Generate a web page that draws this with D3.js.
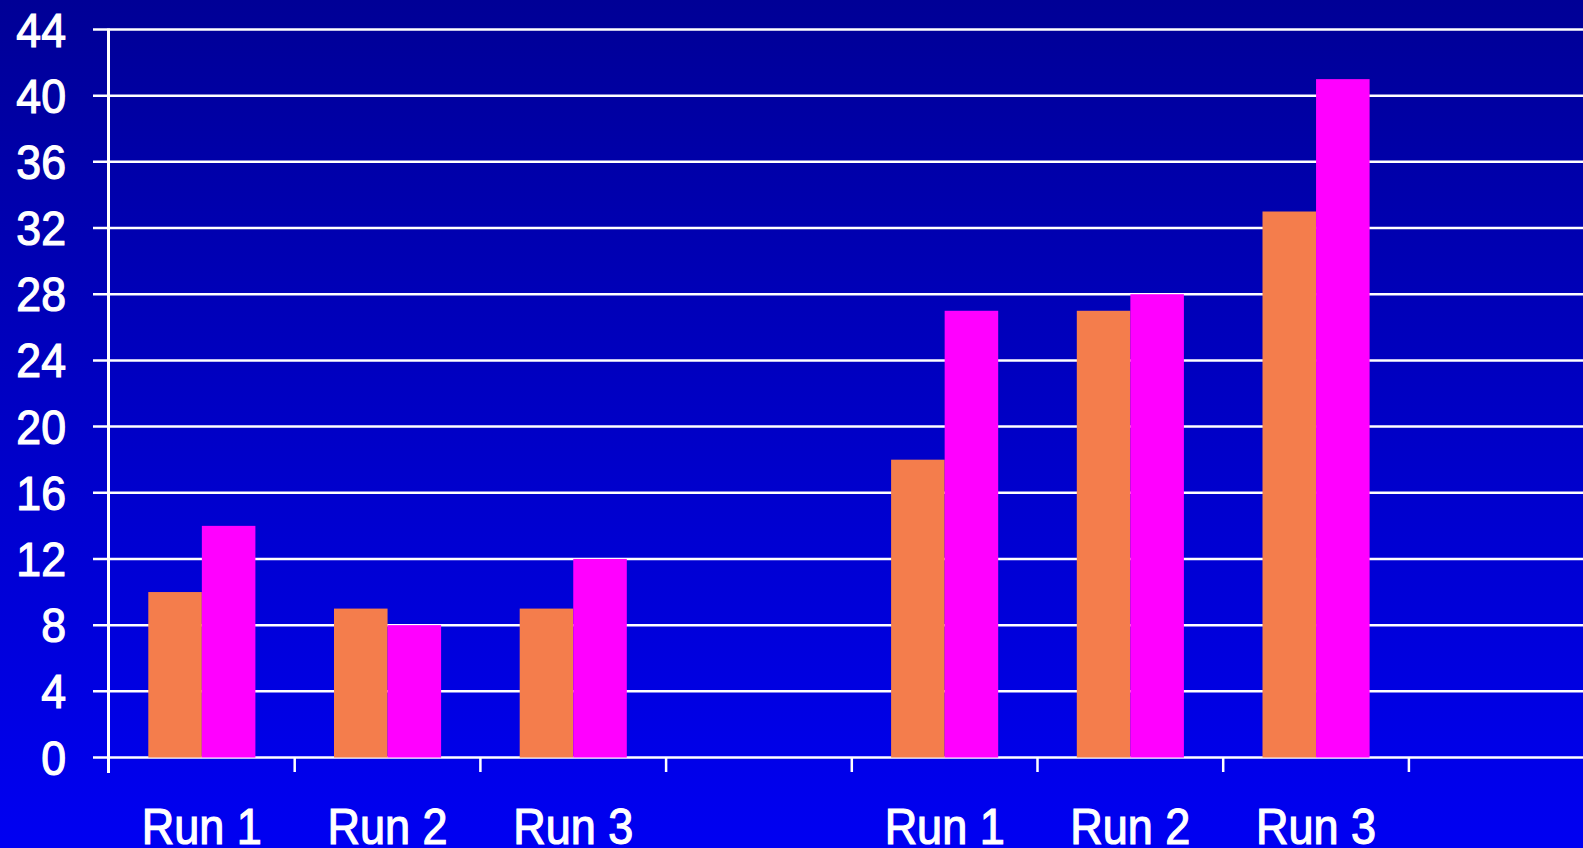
<!DOCTYPE html>
<html>
<head>
<meta charset="utf-8">
<script src="https://cdn.jsdelivr.net/npm/d3@7"></script>
<style>
html,body{margin:0;padding:0;overflow:hidden;background:#0000cc;}
svg{display:block;}
</style>
</head>
<body>
<svg id="chart" width="1583" height="848"></svg>
<script>
const categories = ["Run 1","Run 2","Run 3","","Run 1","Run 2","Run 3",""];
const seriesNames = ["Series A","Series B"];
const seriesA = [10, 9, 9, null, 18, 27, 33, null];
const seriesB = [14, 8, 12, null, 27, 28, 41, null];
const yTicks = [0,4,8,12,16,20,24,28,32,36,40,44];
const colors = ["#f47d4c", "#ff00ff"];

const W = 1583, H = 848;
const svg = d3.select("#chart");

const defs = svg.append("defs");
const grad = defs.append("linearGradient").attr("id","bg").attr("x1",0).attr("y1",0).attr("x2",0).attr("y2",1);
grad.append("stop").attr("offset","0%").attr("stop-color","#000096");
grad.append("stop").attr("offset","50%").attr("stop-color","#0000c6");
grad.append("stop").attr("offset","100%").attr("stop-color","#0000f2");
svg.append("rect").attr("width",W).attr("height",H).attr("fill","url(#bg)");

const x0 = 109, slot = 185.7;
const x = d3.scaleBand().domain(d3.range(categories.length)).range([x0, x0 + slot*categories.length]).padding(0);
const y = d3.scaleLinear().domain([0,44]).range([757.5, 29.5]);
const inner = d3.scaleBand().domain(seriesNames).range([39.3, slot-39.3]).padding(0);

// gridlines
svg.append("g").selectAll("line").data(yTicks).join("line")
  .attr("x1", 93).attr("x2", W)
  .attr("y1", d => y(d)).attr("y2", d => y(d))
  .attr("stroke","#fff").attr("stroke-width",2.5);

// bars
const rows = categories.map((c,i) => ({i, vals:[seriesA[i], seriesB[i]]}));
const g = svg.append("g").selectAll("g").data(rows).join("g")
  .attr("transform", d => `translate(${x(d.i)},0)`);
g.selectAll("rect").data(d => d.vals.map((v,k)=>({v,k})).filter(e=>e.v!=null)).join("rect")
  .attr("x", e => inner(seriesNames[e.k]))
  .attr("width", inner.bandwidth())
  .attr("y", e => y(e.v))
  .attr("height", e => y(0) - y(e.v))
  .attr("fill", e => colors[e.k]);

// y axis line
svg.append("line").attr("x1",108.5).attr("x2",108.5).attr("y1",y(44)-1).attr("y2",773)
  .attr("stroke","#fff").attr("stroke-width",3);

// x ticks
const xt = d3.range(categories.length).slice(1);
svg.append("g").selectAll("line").data(xt).join("line")
  .attr("x1", d => x(d)).attr("x2", d => x(d))
  .attr("y1", y(0)).attr("y2", 772)
  .attr("stroke","#fff").attr("stroke-width",2.5);

// y labels
svg.append("g").selectAll("text").data(yTicks).join("text")
  .attr("transform", d => `translate(66,${y(d)+17}) scale(0.93,1)`)
  .attr("text-anchor","end")
  .attr("font-family","Liberation Sans, Arial, sans-serif")
  .attr("font-size",48)
  .attr("fill","#fff").attr("stroke","#fff").attr("stroke-width",1.2)
  .text(d => d);

// x labels
svg.append("g").selectAll("text").data(categories.map((c,i)=>({c,i})).filter(d=>d.c)).join("text")
  .attr("transform", d => `translate(${x(d.i)+x.bandwidth()/2},844) scale(0.9,1)`)
  .attr("text-anchor","middle")
  .attr("font-family","Liberation Sans, Arial, sans-serif")
  .attr("font-size",50)
  .attr("fill","#fff").attr("stroke","#fff").attr("stroke-width",1.2)
  .text(d => d.c);
</script>
</body>
</html>
